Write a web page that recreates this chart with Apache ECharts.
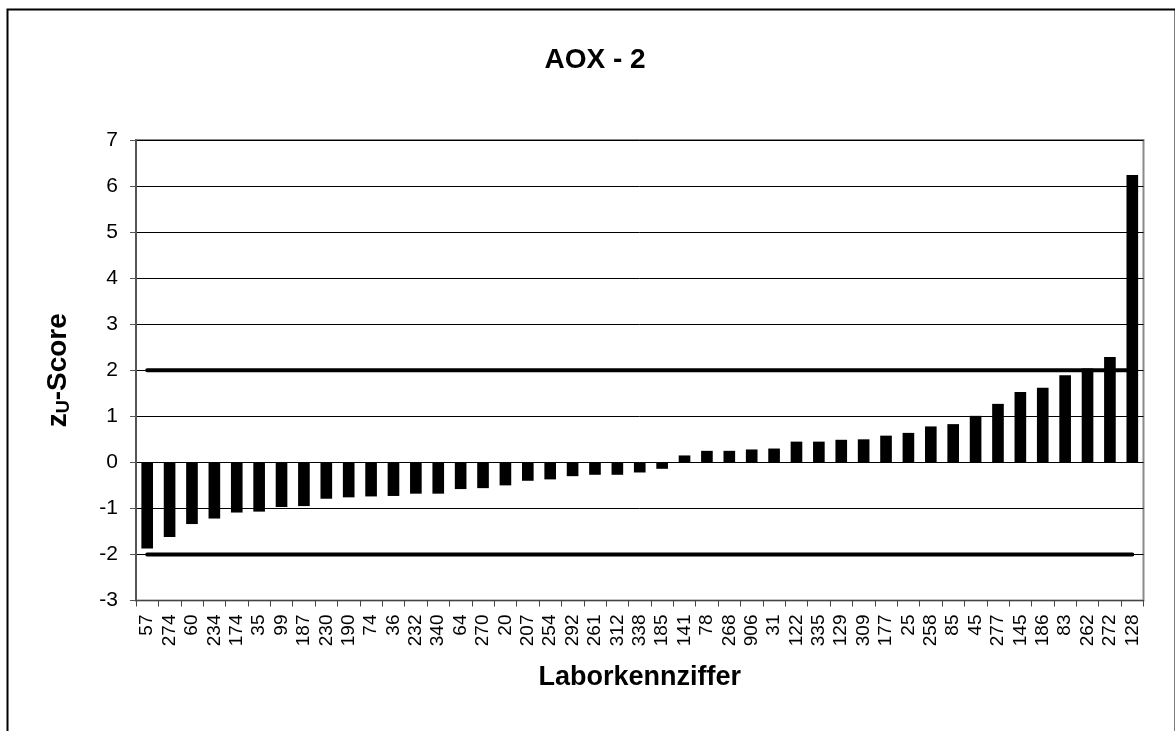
<!DOCTYPE html>
<html>
<head>
<meta charset="utf-8">
<script src="https://cdn.jsdelivr.net/npm/echarts@6/dist/echarts.min.js"></script>
<style>
html,body{margin:0;padding:0;background:#fff;}
#chart{width:1175px;height:731px;}
</style>
</head>
<body>
<div id="chart"></div>
<script>
var labels = ["57","274","60","234","174","35","99","187","230","190","74","36","232","340","64","270","20","207","254","292","261","312","338","185","141","78","268","906","31","122","335","129","309","177","25","258","85","45","277","145","186","83","262","272","128"];
var scores = [-1.87,-1.62,-1.34,-1.22,-1.09,-1.07,-0.97,-0.95,-0.79,-0.76,-0.74,-0.73,-0.68,-0.68,-0.58,-0.56,-0.50,-0.40,-0.37,-0.30,-0.27,-0.27,-0.22,-0.14,0.15,0.25,0.25,0.28,0.30,0.45,0.45,0.49,0.50,0.58,0.64,0.78,0.83,1.01,1.27,1.53,1.62,1.89,2.04,2.29,6.24];
var upperLimit = labels.map(function(){ return 2; });
var lowerLimit = labels.map(function(){ return -2; });
var yTicks = {min: -3, max: 7, interval: 1};

var font = 'Arial, "Liberation Sans", sans-serif';
var chart = echarts.init(document.getElementById('chart'));
chart.setOption({
  animation: false,
  backgroundColor: '#fff',
  title: {
    text: 'AOX - 2',
    left: 590, top: 41, textAlign: 'center',
    textStyle: {fontFamily: font, fontSize: 28, fontWeight: 'bold', color: '#000'}
  },
  graphic: [{
    type: 'rect', left: 5, top: 7, z: 100,
    shape: {width: 1168, height: 760},
    style: {fill: 'none', stroke: '#000', lineWidth: 2}
  }],
  grid: {
    left: 136, right: 31.5, top: 140, bottom: 130.5,
    show: true, borderColor: '#8a8a8a', borderWidth: 2, backgroundColor: 'transparent'
  },
  xAxis: [{
    type: 'category', data: labels, position: 'bottom',
    axisLine: {show: false}, axisTick: {show: false},
    axisLabel: {interval: 0, rotate: 90, margin: 14, fontFamily: font, fontSize: 19, color: '#000'},
    name: 'Laborkennziffer', nameLocation: 'middle', nameGap: 64,
    nameTextStyle: {fontFamily: font, fontSize: 27, fontWeight: 'bold', color: '#000'}
  }, {
    type: 'category', data: labels, position: 'bottom',
    axisLine: {show: true, onZero: true, lineStyle: {color: '#444', width: 1}},
    axisTick: {show: true, interval: 0, length: 6, lineStyle: {color: '#444'}},
    axisLabel: {show: false}
  }],
  yAxis: {
    type: 'value', min: yTicks.min, max: yTicks.max, interval: yTicks.interval,
    axisLine: {show: true, lineStyle: {color: '#555', width: 2}},
    axisTick: {show: true, length: 6, lineStyle: {color: '#555'}},
    axisLabel: {margin: 18, fontFamily: font, fontSize: 21, color: '#000'},
    splitLine: {show: true, lineStyle: {color: '#000', width: 1}},
    name: '{a|z}{b|U}{a|-Score}', nameLocation: 'middle', nameGap: 63, nameRotate: 90,
    nameTextStyle: {
      rich: {
        a: {fontFamily: font, fontSize: 28, fontWeight: 'bold', color: '#000'},
        b: {fontFamily: font, fontSize: 18, fontWeight: 'bold', color: '#000', padding: [12, 0, 0, 0]}
      }
    }
  },
  series: [{
    type: 'bar', data: scores, xAxisIndex: 0, barWidth: '52%',
    itemStyle: {color: '#000'}
  }, {
    type: 'line', data: upperLimit, xAxisIndex: 0, symbol: 'none', z: 3,
    lineStyle: {color: '#000', width: 4, cap: 'round'}
  }, {
    type: 'line', data: lowerLimit, xAxisIndex: 0, symbol: 'none', z: 3,
    lineStyle: {color: '#000', width: 4, cap: 'round'}
  }]
});
</script>
</body>
</html>
